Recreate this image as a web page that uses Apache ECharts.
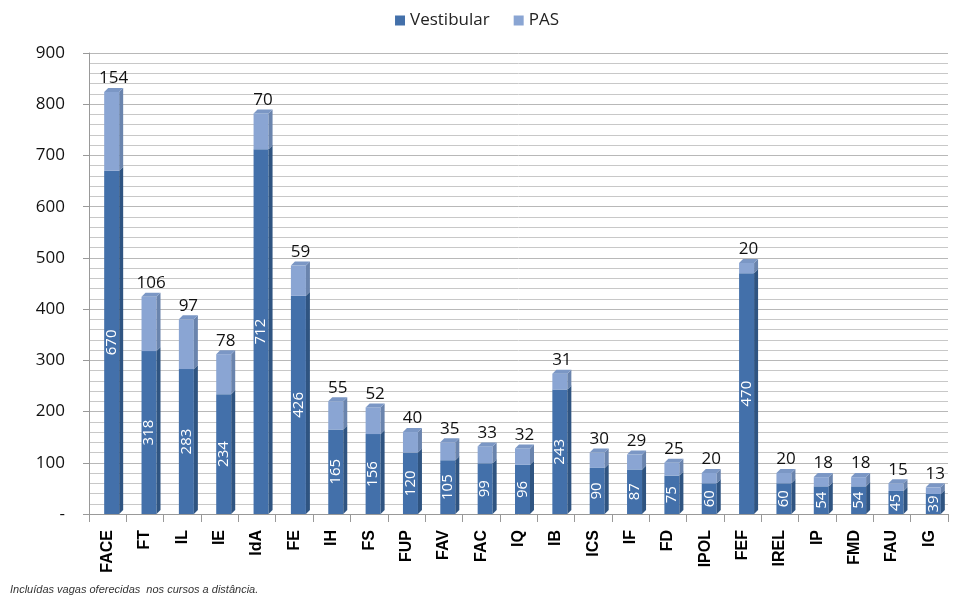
<!DOCTYPE html>
<html>
<head>
<meta charset="utf-8">
<script src="https://cdn.jsdelivr.net/npm/echarts@6/dist/echarts.min.js"></script>
<style>
  html, body { margin: 0; padding: 0; background: #fff; }
  #chart { width: 954px; height: 601px; }
</style>
</head>
<body>
<div id="chart"></div>
<script>
const categories = ['FACE', 'FT', 'IL', 'IE', 'IdA', 'FE', 'IH', 'FS', 'FUP', 'FAV', 'FAC', 'IQ',
  'IB', 'ICS', 'IF', 'FD', 'IPOL', 'FEF', 'IREL', 'IP', 'FMD', 'FAU', 'IG']
const vestibular = [670, 318, 283, 234, 712, 426, 165, 156, 120, 105, 99, 96,
  243, 90, 87, 75, 60, 470, 60, 54, 54, 45, 39]
const pas = [154, 106, 97, 78, 70, 59, 55, 52, 40, 35, 33, 32,
  31, 30, 29, 25, 20, 20, 20, 18, 18, 15, 13]
const yTicks = [0, 100, 200, 300, 400, 500, 600, 700, 800, 900]

const colors = {
  vFront: '#4370aa', vSide: '#2f5481',
  pFront: '#8aa5d3', pSide: '#6a84ad', pTop: '#7b97c5'
}
const FONT = '"Open Sans", "Noto Sans", sans-serif'
// desenha um bloco 3D (frente + lateral) entre dois valores
function block(api, idx, lo, hi, front, side, withTop, topColor) {
  const p0 = api.coord([idx, lo])
  const p1 = api.coord([idx, hi])
  const x0 = p0[0] - 3.5
  const x1 = p0[0] + 11.5
  const d = 4
  const children = [
    { type: 'rect', shape: { x: x0, y: p1[1], width: x1 - x0, height: p0[1] - p1[1] }, style: { fill: front } },
    { type: 'polygon', shape: { points: [[x1, p0[1]], [x1 + d, p0[1] - d], [x1 + d, p1[1] - d], [x1, p1[1]]] }, style: { fill: side } }
  ]
  if (withTop) {
    children.push({ type: 'polygon', shape: { points: [[x0, p1[1]], [x0 + d, p1[1] - d], [x1 + d, p1[1] - d], [x1, p1[1]]] }, style: { fill: topColor } })
  }
  return { x0, x1, p0, p1, children }
}

const chart = echarts.init(document.getElementById('chart'))
chart.setOption({
  animation: false,
  legend: {
    top: 7,
    left: 'center',
    itemWidth: 10,
    itemHeight: 10,
    itemGap: 24,
    icon: 'rect',
    textStyle: { fontFamily: FONT, fontSize: 17, color: '#222' },
    data: [
      { name: 'Vestibular', itemStyle: { color: colors.vFront } },
      { name: 'PAS', itemStyle: { color: colors.pFront } }
    ]
  },
  grid: { left: 89, right: 6, top: 53, bottom: 87 },
  xAxis: {
    type: 'category',
    data: categories,
    axisLine: { lineStyle: { color: '#999' } },
    axisTick: { show: true, length: 8, lineStyle: { color: '#999' } },
    axisLabel: {
      rotate: 90,
      interval: 0,
      margin: 16,
      color: '#000',
      fontFamily: '"Liberation Sans", Arial, sans-serif',
      fontWeight: 'bold',
      fontSize: 16
    }
  },
  yAxis: {
    type: 'value',
    min: 0,
    max: 900,
    interval: 100,
    axisLine: { show: true, lineStyle: { color: '#999' } },
    axisTick: { show: true, length: 6, lineStyle: { color: '#999' } },
    axisLabel: {
      margin: 24,
      color: '#111',
      fontFamily: FONT,
      fontSize: 17,
      formatter: v => (yTicks.indexOf(v) === 0 ? '-' : String(v))
    },
    splitLine: { lineStyle: { color: '#b8b8b8' } },
    minorTick: { show: false, splitNumber: 5 },
    minorSplitLine: { show: true, lineStyle: { color: '#c8c8c8' } }
  },
  series: [
    {
      name: 'Vestibular',
      type: 'custom',
      data: vestibular.map((v, i) => [i, v]),
      itemStyle: { color: colors.vFront },
      renderItem(params, api) {
        const i = api.value(0)
        const v = api.value(1)
        const b = block(api, i, 0, v, colors.vFront, colors.vSide, pas[i] === 0, colors.vFront)
        b.children.push({
          type: 'text',
          x: (b.x0 + b.x1) / 2,
          y: (b.p0[1] + b.p1[1]) / 2,
          rotation: Math.PI / 2,
          style: {
            text: String(v),
            fill: '#fff',
            font: '15px ' + FONT,
            align: 'center',
            verticalAlign: 'middle'
          }
        })
        return { type: 'group', children: b.children }
      }
    },
    {
      name: 'PAS',
      type: 'custom',
      data: pas.map((p, i) => [i, p]),
      itemStyle: { color: colors.pFront },
      renderItem(params, api) {
        const i = api.value(0)
        const p = api.value(1)
        const lo = vestibular[i]
        const b = block(api, i, lo, lo + p, colors.pFront, colors.pSide, true, colors.pTop)
        b.children.push({
          type: 'text',
          x: (b.x0 + b.x1) / 2 + 2,
          y: b.p1[1] - 5,
          style: {
            text: String(p),
            fill: '#111',
            font: '17px ' + FONT,
            align: 'center',
            verticalAlign: 'bottom'
          }
        })
        return { type: 'group', children: b.children }
      }
    }
  ],
  graphic: [
    {
      type: 'text',
      left: 10,
      top: 584,
      style: {
        text: 'Incluídas vagas oferecidas  nos cursos a distância.',
        fill: '#333',
        font: 'italic 11px "Liberation Sans", Arial, sans-serif'
      }
    }
  ]
})
</script>
</body>
</html>
